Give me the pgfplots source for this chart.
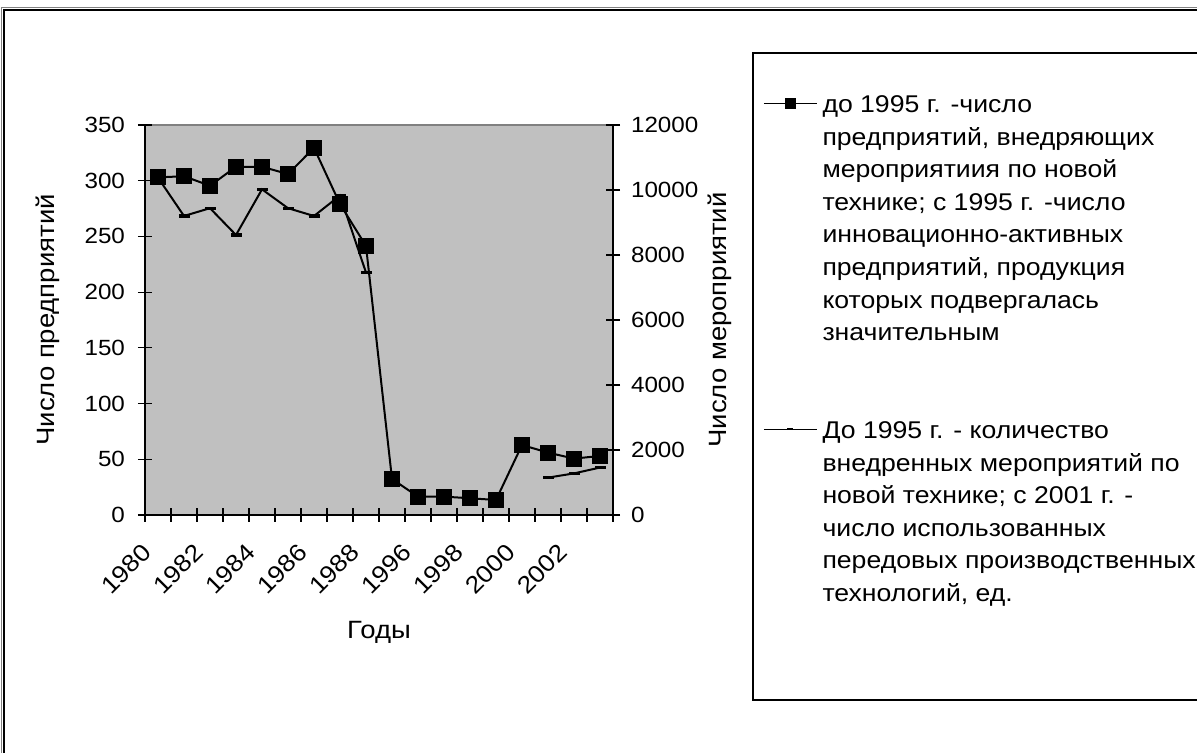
\documentclass[border=0pt]{standalone}
\usepackage{pgfplots}
\pgfplotsset{compat=1.18}
\usepackage{fontspec}
\setmainfont[FakeStretch=1.1]{Liberation Sans}
\definecolor{plotbg}{RGB}{192,192,192}
\definecolor{frameg}{RGB}{128,128,128}
\newcommand{\LE}[1]{\makebox[205pt][l]{\rule[-4.8pt]{0pt}{15.6pt}#1}}
\newcommand{\LEshort}{\makebox[205pt][l]{\rule[-4.8pt]{0pt}{11.6pt}}}
\newcommand{\tickfont}{\fontsize{11}{13}\selectfont}
\newcommand{\xtickfont}{\fontsize{12}{14}\selectfont}
\newcommand{\labfont}{\fontsize{12.5}{15}\selectfont}

\pgfplotstableread{
x  firms
0  303
1  304
2  295.5
3  312.5
4  312.5
5  306
6  329.5
7  279
8  241.5
9  32.3
10 16.5
11 16.5
12 15
13 13.5
14 62.8
15 56
16 50.6
17 53
}\firms

\pgfplotstableread{
x  events
0  10380
1  9200
2  9440
3  8615
4  10020
5  9440
6  9200
7  9830
8  7460
9  nan
10 nan
11 nan
12 nan
13 nan
14 nan
15 1150
16 1280
17 1460
}\events

\begin{document}
\begin{tikzpicture}
\path[use as bounding box] (0,0) rectangle (598.5pt,376.5pt);
\draw[frameg, line width=0.5pt] (0.8pt,-20pt) -- (0.8pt,372.7pt) -- (620pt,372.7pt);
\draw[black, line width=1pt] (2pt,-20pt) -- (2pt,371.3pt) -- (620pt,371.3pt);

\begin{axis}[
  at={(72.5pt,119pt)}, anchor=south west,
  scale only axis, width=234pt, height=195pt,
  xmin=-0.5, xmax=17.5, ymin=0, ymax=350,
  axis x line*=bottom, axis y line*=left,
  axis line style={black, line width=0.75pt},
  axis background/.style={fill=plotbg, draw=frameg, line width=0.6pt},
  tick align=center, major tick length=7pt,
  every tick/.style={black, line width=0.6pt},
  xtick={-0.5,0.5,...,17.5}, xticklabels={},
  extra x ticks={0,2,...,16},
  extra x tick labels={1980,1982,1984,1986,1988,1996,1998,2000,2002},
  extra x tick style={major tick length=0pt},
  xticklabel style={font=\xtickfont, xshift=-5.5pt, yshift=-16.5pt, rotate=45, anchor=east, inner sep=0pt},
  ytick={0,50,...,350},
  yticklabel style={font=\tickfont, xshift=-3pt},
  /pgf/number format/assume math mode=true,
  /pgf/number format/1000 sep={},
  every axis y label/.style={at={(-0.208,0.5)}, anchor=center, rotate=90},
  ylabel={\labfont Число предприятий},
  every axis x label/.style={at={(0.5,-0.3015)}, anchor=center},
  xlabel={\labfont Годы},
  clip=false,
]
\addplot[black, line width=1pt, mark=square*, mark size=3.5pt,
  mark options={solid, fill=black}] table[x=x, y=firms] {\firms};
\end{axis}

\begin{axis}[
  at={(72.5pt,119pt)}, anchor=south west,
  scale only axis, width=234pt, height=195pt,
  xmin=-0.5, xmax=17.5, ymin=0, ymax=12000,
  axis x line=none, axis y line*=right,
  axis line style={black, line width=0.75pt},
  tick align=center, major tick length=7pt,
  every tick/.style={black, line width=0.6pt},
  ytick={0,2000,...,12000},
  scaled y ticks=false,
  yticklabel style={font=\tickfont, xshift=2pt},
  /pgf/number format/assume math mode=true,
  /pgf/number format/1000 sep={},
  every axis y label/.style={at={(1.2286,0.5)}, anchor=center, rotate=90},
  ylabel={\labfont Число мероприятий},
  unbounded coords=jump,
  clip=false,
  legend cell align=left,
  legend image code/.code={\draw[mark repeat=2,mark phase=2,#1] plot coordinates {(0pt,0pt) (13.25pt,0pt) (26.5pt,0pt)};},
  legend style={at={(1.297,1.1872)}, anchor=north west,
    draw=black, line width=1pt, fill=white,
    inner xsep=5pt, inner ysep=17pt, row sep=0pt, column sep=0.5pt,
    font=\fontsize{12.1}{15.6}\selectfont},
]
\addplot[black, line width=1pt, mark=-, mark size=2.75pt,
  mark options={solid, line width=1.6pt}, forget plot] table[x=x, y=events] {\events};

\addlegendimage{black, line width=0.75pt, mark=square*, mark size=2.25pt,
  mark options={solid, fill=black}}
\addlegendentry{\LE{до 1995 г. -число}}
\addlegendimage{empty legend}\addlegendentry{\LE{предприятий, внедряющих}}
\addlegendimage{empty legend}\addlegendentry{\LE{мероприятиия по новой}}
\addlegendimage{empty legend}\addlegendentry{\LE{технике; с 1995 г. -число}}
\addlegendimage{empty legend}\addlegendentry{\LE{инновационно-активных}}
\addlegendimage{empty legend}\addlegendentry{\LE{предприятий, продукция}}
\addlegendimage{empty legend}\addlegendentry{\LE{которых подвергалась}}
\addlegendimage{empty legend}\addlegendentry{\LE{значительным}}
\addlegendimage{empty legend}\addlegendentry{\LE{}}
\addlegendimage{empty legend}\addlegendentry{\LE{}}
\addlegendimage{black, line width=0.75pt, mark=-, mark size=1.5pt,
  mark options={solid, line width=1.2pt}}
\addlegendentry{\LE{До 1995 г. - количество}}
\addlegendimage{empty legend}\addlegendentry{\LE{внедренных мероприятий по}}
\addlegendimage{empty legend}\addlegendentry{\LE{новой технике; с 2001 г. -}}
\addlegendimage{empty legend}\addlegendentry{\LE{число использованных}}
\addlegendimage{empty legend}\addlegendentry{\LE{передовых производственных}}
\addlegendimage{empty legend}\addlegendentry{\LE{технологий, ед.}}
\addlegendimage{empty legend}\addlegendentry{\LE{}}
\addlegendimage{empty legend}\addlegendentry{\LEshort}
\end{axis}
\end{tikzpicture}
\end{document}
